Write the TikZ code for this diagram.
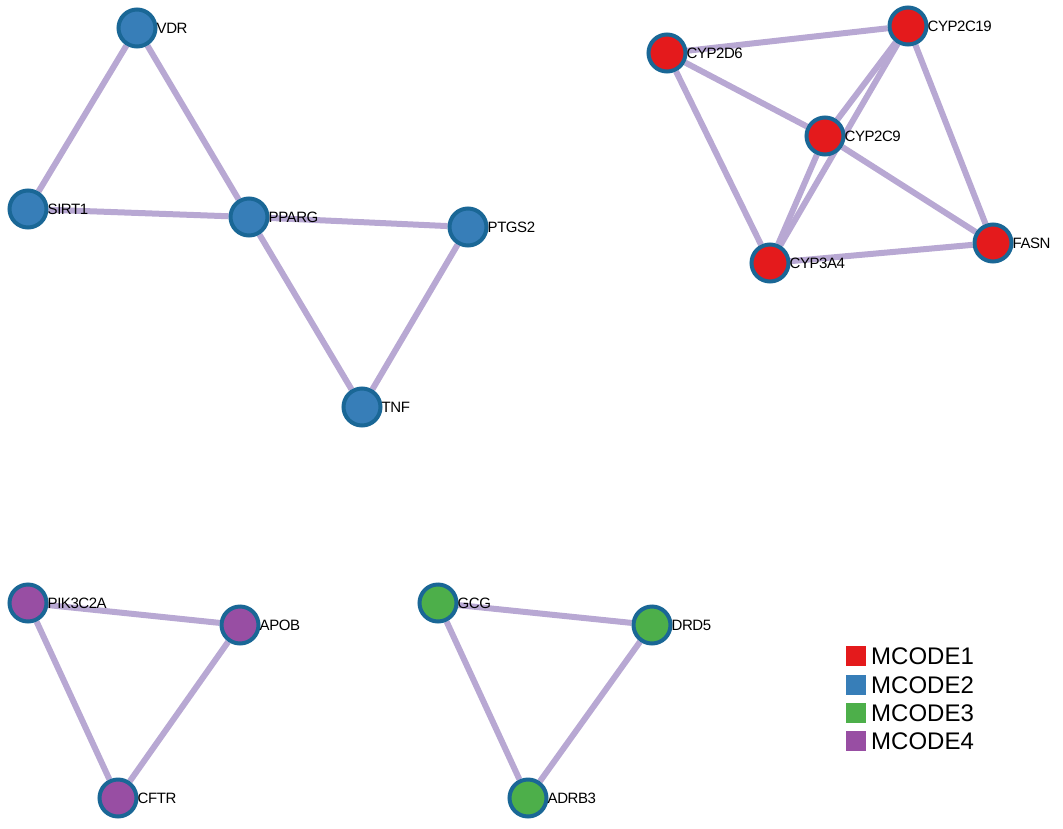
\documentclass[tikz,border=0pt]{standalone}
\usepackage{fontspec}
\setmainfont{Liberation Sans}
\usetikzlibrary{backgrounds}
\definecolor{edgec}{HTML}{B8A8D3}
\definecolor{ringc}{HTML}{1A6796}
\definecolor{mred}{HTML}{E41A1C}
\definecolor{mblue}{HTML}{377EB8}
\definecolor{mgreen}{HTML}{4DAF4A}
\definecolor{mpurple}{HTML}{984EA3}
\tikzset{
  gene/.style={circle, draw=ringc, line width=4pt, minimum size=37pt, inner sep=0pt},
  red/.style={gene, fill=mred},
  blue/.style={gene, fill=mblue},
  green/.style={gene, fill=mgreen},
  purple/.style={gene, fill=mpurple},
  lab/.style={anchor=west, inner sep=0pt, font=\fontsize{15}{17}\selectfont\addfontfeature{LetterSpace=-3}, xshift=-1pt},
  link/.style={draw=edgec, line width=6pt},
  legbox/.style={minimum size=20pt, inner sep=0pt},
  legtxt/.style={anchor=west, inner sep=0pt, font=\fontsize{24}{26}\selectfont}
}
\begin{document}
\begin{tikzpicture}[x=1pt, y=-1pt]
\useasboundingbox (0,0) rectangle (1063,828);
% MCODE2
\node[blue] (VDR) at (137,28) {};
\node[blue] (SIRT1) at (28,209) {};
\node[blue] (PPARG) at (249,217) {};
\node[blue] (PTGS2) at (468,227) {};
\node[blue] (TNF) at (362,407) {};
% MCODE1
\node[red] (CYP2D6) at (667,53) {};
\node[red] (CYP2C19) at (908,26) {};
\node[red] (CYP2C9) at (825,136) {};
\node[red] (CYP3A4) at (770,263) {};
\node[red] (FASN) at (993,243) {};
% MCODE4
\node[purple] (PIK3C2A) at (28,603) {};
\node[purple] (APOB) at (240,625) {};
\node[purple] (CFTR) at (118,798) {};
% MCODE3
\node[green] (GCG) at (438,603) {};
\node[green] (DRD5) at (652,625) {};
\node[green] (ADRB3) at (528,798) {};
% labels
\foreach \n in {VDR,SIRT1,PPARG,PTGS2,TNF,CYP2D6,CYP2C19,CYP2C9,CYP3A4,FASN,PIK3C2A,APOB,CFTR,GCG,DRD5,ADRB3}
  \node[lab] (\n-l) at (\n.east) {\n};
\begin{scope}[on background layer]
\draw[link] (VDR) -- (SIRT1);
\draw[link] (VDR) -- (PPARG);
\draw[link] (SIRT1) -- (PPARG);
\draw[link] (PPARG) -- (PTGS2);
\draw[link] (PPARG) -- (TNF);
\draw[link] (PTGS2) -- (TNF);
\draw[link] (CYP2D6) -- (CYP2C19);
\draw[link] (CYP2D6) -- (CYP2C9);
\draw[link] (CYP2D6) -- (CYP3A4);
\draw[link] (CYP2C19) -- (CYP2C9);
\draw[link] (CYP2C19) -- (CYP3A4);
\draw[link] (CYP2C19) -- (FASN);
\draw[link] (CYP2C9) -- (CYP3A4);
\draw[link] (CYP2C9) -- (FASN);
\draw[link] (CYP3A4) -- (FASN);
\draw[link] (PIK3C2A) -- (APOB);
\draw[link] (PIK3C2A) -- (CFTR);
\draw[link] (APOB) -- (CFTR);
\draw[link] (GCG) -- (DRD5);
\draw[link] (GCG) -- (ADRB3);
\draw[link] (DRD5) -- (ADRB3);
\end{scope}
% legend
\node[legbox, fill=mred] (L1) at (856,656) {};
\node[legbox, fill=mblue] (L2) at (856,685) {};
\node[legbox, fill=mgreen] (L3) at (856,713) {};
\node[legbox, fill=mpurple] (L4) at (856,741) {};
\node[legtxt] (T1) at (871,656) {MCODE1};
\node[legtxt] (T2) at (871,685) {MCODE2};
\node[legtxt] (T3) at (871,713) {MCODE3};
\node[legtxt] (T4) at (871,741) {MCODE4};
\end{tikzpicture}
\end{document}
